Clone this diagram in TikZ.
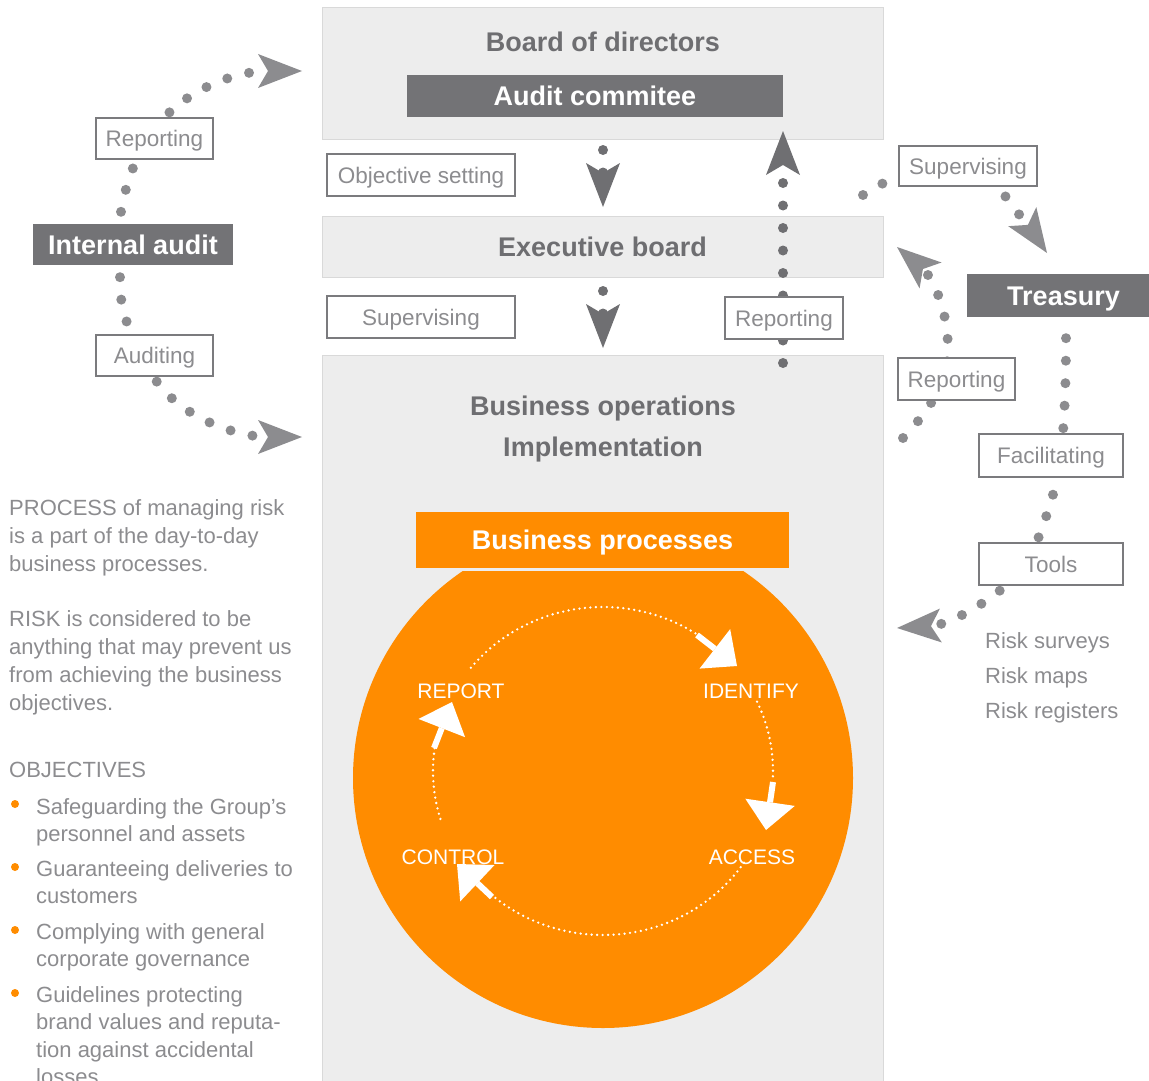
\documentclass[tikz,border=0pt]{standalone}
\usepackage{fontspec}
\setmainfont{Liberation Sans}
\usetikzlibrary{arrows.meta}
\definecolor{cPanel}{HTML}{EDEDED}
\definecolor{cPanelLine}{HTML}{D9D9D9}
\definecolor{cDark}{HTML}{737376}
\definecolor{cHead}{HTML}{6E6E71}
\definecolor{cLight}{HTML}{8C8C8F}
\definecolor{cBoxLine}{HTML}{7B7B7E}
\definecolor{cDot}{HTML}{8C8C8F}
\definecolor{cDotDark}{HTML}{6F6F72}
\definecolor{cOrange}{HTML}{FF8C00}
\begin{document}
\begin{tikzpicture}[x=1pt,y=-1pt,
  sz/.style 2 args={minimum width=#1pt, minimum height=#2pt},
  panelbox/.style={fill=cPanel, draw=cPanelLine, line width=1pt, inner sep=0pt},
  headfont/.style={font=\fontsize{27}{41}\selectfont\bfseries},
  headfix/.style={text height=19.5pt, text depth=0pt},
  labelfix/.style={text height=16.4pt, text depth=0pt},
  cycfix/.style={text height=15.2pt, text depth=0pt},
  headtext/.style={text=cHead, headfont, inner sep=0pt},
  darkbox/.style={fill=cDark, text=white, headfont, inner sep=0pt, headfix},
  labelbox/.style={draw=cBoxLine, line width=2.2pt, fill=white, text=cLight, font=\fontsize{22.5}{26}\selectfont, inner sep=0pt, labelfix},
  gdots/.style={draw=cDot, line width=10pt, line cap=round, dash pattern=on 0pt off 22.5pt},
  ddots/.style={draw=cDotDark, line width=10pt, line cap=round, dash pattern=on 0pt off 22.5pt},
  bighead/.style={-{Stealth[length=44pt,width=34pt,inset=10pt,line width=0pt]}},
  wdots/.style={draw=white, line width=2.6pt, line cap=round, dash pattern=on 0pt off 5.5pt},
  warrow/.style={draw=white, line width=6pt, -{Triangle[length=28pt,width=50pt,line width=0pt]}},
  cyclabel/.style={text=white, font=\fontsize{21}{24}\selectfont, inner sep=0pt, cycfix},
  lefttext/.style={text=cLight, font=\fontsize{22}{28}\selectfont, align=left, inner sep=0pt, anchor=north west},
  bullettext/.style={text=cLight, font=\fontsize{22}{27.5}\selectfont, align=left, inner sep=0pt, anchor=north west},
  bulletdot/.style={circle, fill=cOrange, inner sep=0pt, minimum size=8pt}
]
\useasboundingbox (0,0) rectangle (1149,1081);

% ---------- panels ----------
\node[panelbox, sz={561}{131}] (board) at (602.5,73.5) {};
\node[headtext, headfix] (boardt) at (603,42) {Board of directors};
\node[darkbox, sz={376}{42}] (audit) at (595,96) {Audit commitee};
\node[panelbox, headtext, headfix, sz={561}{61}] (exec) at (602.5,247) {Executive board};
\node[panelbox, sz={561}{740}] (ops) at (602.5,725) {};
\node[headtext, align=center] (opst) at (603,429) {Business operations\\Implementation};

% ---------- business process wheel ----------
\node[circle, fill=cOrange, minimum size=500pt, inner sep=0pt] (wheel) at (603,778) {};
\fill[cPanel] (416,505) rectangle (789,571);
\node[fill=cOrange, text=white, headfont, headfix, inner sep=0pt, sz={373}{56}] (bp) at (602.5,540) {Business processes};

\node[cyclabel] (rep) at (461,691) {REPORT};
\node[cyclabel] (ide) at (751,691) {IDENTIFY};
\node[cyclabel] (acc) at (752,857) {ACCESS};
\node[cyclabel] (ctl) at (453,857) {CONTROL};

\coordinate (a1) at (697,635); \coordinate (t1) at (737,666);
\coordinate (a2) at (773,782); \coordinate (t2) at (766,830);
\coordinate (a3) at (492,897); \coordinate (t3) at (457,864);
\coordinate (a4) at (434,748); \coordinate (t4) at (452,702);
\draw[wdots, domain=-141:-57, samples=80, variable=\t] plot ({603+170*cos(\t)}, {771+164*sin(\t)});
\draw[warrow] (a1) -- (t1);
\draw[wdots, domain=-25:2, samples=40, variable=\t] plot ({603+170*cos(\t)}, {771+164*sin(\t)});
\draw[warrow] (a2) -- (t2);
\draw[wdots, domain=34:130, samples=80, variable=\t] plot ({603+170*cos(\t)}, {771+164*sin(\t)});
\draw[warrow] (a3) -- (t3);
\draw[wdots, domain=163:188, samples=40, variable=\t] plot ({603+170*cos(\t)}, {771+164*sin(\t)});
\draw[warrow] (a4) -- (t4);

% ---------- centre connectors ----------
\coordinate (objS) at (603,150); \coordinate (objT) at (603,207);
\coordinate (supS) at (603,291); \coordinate (supT) at (603,348);
\coordinate (vrS) at (783,363);  \coordinate (vrT) at (783,131);
\draw[ddots, bighead] (objS) -- (objT);
\draw[ddots, bighead] (supS) -- (supT);
\draw[ddots, bighead] (vrS) -- (vrT);

% ---------- left side ----------
\node[darkbox, sz={200}{41}] (ia) at (133,244.5) {Internal audit};
\coordinate (iaT1) at (302,71);
\coordinate (iaT2) at (302,437);
\draw[gdots, bighead] ([shift={(-12,-12)}]ia.north) .. controls (128,170) and (145,135) .. (172,110) .. controls (200,85) and (240,71) .. (iaT1);
\draw[gdots, bighead] ([shift={(-13,12)}]ia.south) .. controls (118,310) and (135,350) .. (157,382) .. controls (185,420) and (240,437) .. (iaT2);
\node[labelbox, sz={117}{41}] (repL) at (154.5,138.5) {Reporting};
\node[labelbox, sz={117}{41}] (audL) at (154.5,355.5) {Auditing};

% ---------- right side ----------
\node[darkbox, sz={193}{43}] (tre) at (1063.5,295.5) {Treasury};
\coordinate (supRS) at (863,195); \coordinate (treT) at (1047,253);
\draw[gdots, bighead] (supRS) .. controls (930,150) and (990,170) .. (1003,193) .. controls (1015,210) and (1030,228) .. (treT);
\coordinate (rrS) at (903,438); \coordinate (rrT) at (897,247);
\draw[gdots, bighead] (rrS) .. controls (925,415) and (948,385) .. (948,350) .. controls (948,305) and (930,275) .. (rrT);
\coordinate (toolT) at (897,628);
\draw[gdots, bighead] ([shift={(2.5,21)}]tre.south) .. controls (1066,390) and (1064,420) .. (1062,445) .. controls (1058,490) and (1045,520) .. (1030,560) .. controls (1005,595) and (950,625) .. (toolT);

\node[labelbox, sz={188}{42}] (obj) at (421,175) {Objective setting};
\node[labelbox, sz={188}{42}] (supL) at (421,317) {Supervising};
\node[labelbox, sz={118}{42}] (repC) at (784,318) {Reporting};
\node[labelbox, sz={138}{40}] (supR) at (968,166) {Supervising};
\node[labelbox, sz={117}{42}] (repR) at (956.5,379) {Reporting};
\node[labelbox, sz={144}{43}] (fac) at (1051,455.5) {Facilitating};
\node[labelbox, sz={144}{42}] (tools) at (1051,564) {Tools};
\node[lefttext, font=\fontsize{22}{35}\selectfont] (risks) at (985,632) {Risk surveys\\Risk maps\\Risk registers};

% ---------- left text ----------
\node[lefttext] (para1) at (9,499) {PROCESS of managing risk\\is a part of the day-to-day\\business processes.};
\node[lefttext] (para2) at (9,610) {RISK is considered to be\\anything that may prevent us\\from achieving the business\\objectives.};
\node[lefttext] (objh) at (9,762) {OBJECTIVES};
\node[bulletdot] (b1) at (15,804) {};
\node[bullettext] (o1) at (36,798) {Safeguarding the Group's\\personnel and assets};
\node[bulletdot] (b2) at (15,867) {};
\node[bullettext] (o2) at (36,860) {Guaranteeing deliveries to\\customers};
\node[bulletdot] (b3) at (15,930) {};
\node[bullettext] (o3) at (36,923) {Complying with general\\corporate governance};
\node[bulletdot] (b4) at (15,993) {};
\node[bullettext] (o4) at (36,986) {Guidelines protecting\\brand values and reputa-\\tion against accidental\\losses};
\end{tikzpicture}
\end{document}
